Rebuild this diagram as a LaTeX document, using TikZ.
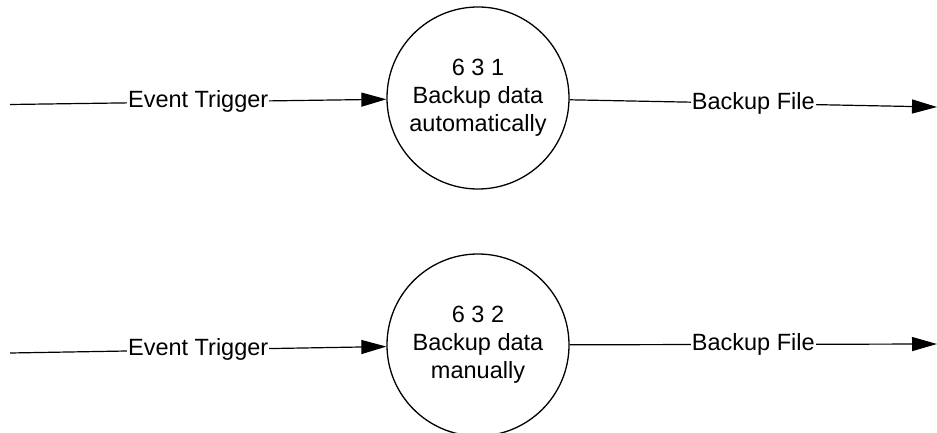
\documentclass[tikz,border=0pt]{standalone}
\usepackage{fontspec}
\setmainfont{Liberation Sans}
\usetikzlibrary{arrows.meta}

\begin{document}
\begin{tikzpicture}[
    x=1pt, y=-1pt,
    proc/.style={draw, circle, line width=1.3pt, minimum size=182pt, inner sep=0pt, align=center, font=\fontsize{23.5}{28}\selectfont},
    arr/.style={-{Triangle[length=25pt, width=14pt]}, line width=1.2pt},
    lbl/.style={font=\fontsize{23.5}{28}\selectfont, fill=white, inner sep=1pt}
]
\useasboundingbox (0,0) rectangle (937,433);
\node[proc] (p631) at (478,98) {6 3 1\\Backup data\\automatically};
\node[proc] (p632) at (478,345) {6 3 2\\Backup data\\manually};
\coordinate (in1) at (10,104.5);
\coordinate (out1) at (937,107);
\coordinate (in2) at (10,353);
\coordinate (out2) at (937,344);

\draw[arr] (in1) -- node[lbl] {Event Trigger} (p631);
\draw[arr] (p631) -- node[lbl] {Backup File} (out1);
\draw[arr] (in2) -- node[lbl] {Event Trigger} (p632);
\draw[arr] (p632) -- node[lbl] {Backup File} (out2);
\end{tikzpicture}
\end{document}
